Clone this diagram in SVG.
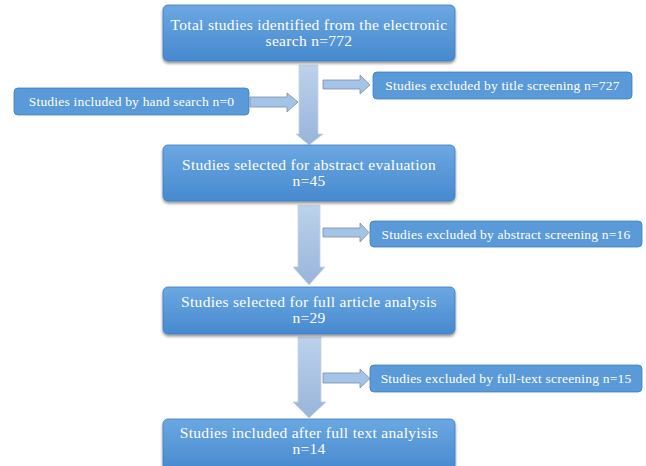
<svg xmlns="http://www.w3.org/2000/svg" width="646" height="466" viewBox="0 0 646 466">
<defs>
<linearGradient id="boxg" x1="0" y1="0" x2="0" y2="1">
<stop offset="0" stop-color="#6ba8e2"/>
<stop offset="1" stop-color="#4789cf"/>
</linearGradient>
<linearGradient id="arrg" x1="0" y1="0" x2="0" y2="1">
<stop offset="0" stop-color="#bcd2ec"/>
<stop offset="1" stop-color="#98b4da"/>
</linearGradient>
<filter id="sh" x="-10%" y="-20%" width="120%" height="150%">
<feGaussianBlur in="SourceAlpha" stdDeviation="1.5"/>
<feOffset dx="0" dy="2" result="b"/>
<feComponentTransfer><feFuncA type="linear" slope="0.45"/></feComponentTransfer>
<feMerge><feMergeNode/><feMergeNode in="SourceGraphic"/></feMerge>
</filter>
</defs>
<style>
.box{fill:url(#boxg);stroke:#3f7fc0;stroke-width:0.8;filter:url(#sh)}
.sbox{fill:#5a9ad8;stroke:#3f7cbc;stroke-width:0.8}
.t{font-family:"Liberation Serif","Times New Roman",serif;fill:#ffffff;text-anchor:middle}
.big{font-size:15.5px;letter-spacing:0.3px}
.small{font-size:13.5px;letter-spacing:0.2px}
.down{fill:url(#arrg);stroke:#c9d3df;stroke-width:0.8}
.right{fill:#a3c4e6;stroke:#7d8da3;stroke-width:0.8}
</style>
<g id="connectors">
<path class="down" d="M299,65 H318 V134 H323 L309,145 L296,134 H299 Z"/>
<path class="down" d="M298,205 H320 V267 H325 L309,285 L293,267 H298 Z"/>
<path class="down" d="M298,337 H321 V402 H326 L309,418 L293,402 H298 Z"/>
<path class="right" d="M323,80 H360 V75 L370,85 L360,94 V89 H323 Z"/>
<path class="right" d="M250,97 H287 V93 L298,102 L287,112 V107 H250 Z"/>
<path class="right" d="M323,228 H360 V223 L369,232.5 L360,242 V237 H323 Z"/>
<path class="right" d="M323,373 H360 V369 L370,378.5 L360,388 V383 H323 Z"/>
</g>
<g id="n1">
<rect class="box" x="163" y="5" width="292" height="56" rx="5"/>
<text class="t big" x="309" y="30">Total studies identified from the electronic</text>
<text class="t big" x="309" y="46">search n=772</text>
</g>
<g id="n_title">
<rect class="sbox" x="373" y="72" width="259" height="27" rx="4"/>
<text class="t small" x="502.5" y="90">Studies excluded by title screening n=727</text>
</g>
<g id="n_hand">
<rect class="sbox" x="14" y="88" width="235" height="27" rx="4"/>
<text class="t small" x="131.5" y="106">Studies included by hand search n=0</text>
</g>
<g id="n2">
<rect class="box" x="163" y="145" width="292" height="56" rx="5"/>
<text class="t big" x="309" y="170">Studies selected for abstract evaluation</text>
<text class="t big" x="309" y="186">n=45</text>
</g>
<g id="n_abs">
<rect class="sbox" x="370" y="221" width="272" height="26" rx="4"/>
<text class="t small" x="506" y="238.5">Studies excluded by abstract screening n=16</text>
</g>
<g id="n3">
<rect class="box" x="163" y="287" width="292" height="47" rx="5"/>
<text class="t big" x="309" y="307">Studies selected for full article analysis</text>
<text class="t big" x="309" y="323">n=29</text>
</g>
<g id="n_full">
<rect class="sbox" x="370" y="365" width="272" height="27" rx="4"/>
<text class="t small" x="506" y="382.5">Studies excluded by full-text screening n=15</text>
</g>
<g id="n4">
<rect class="box" x="163" y="419" width="292" height="52" rx="5"/>
<text class="t big" x="309" y="438">Studies included after full text analyisis</text>
<text class="t big" x="309" y="454">n=14</text>
</g>
</svg>
